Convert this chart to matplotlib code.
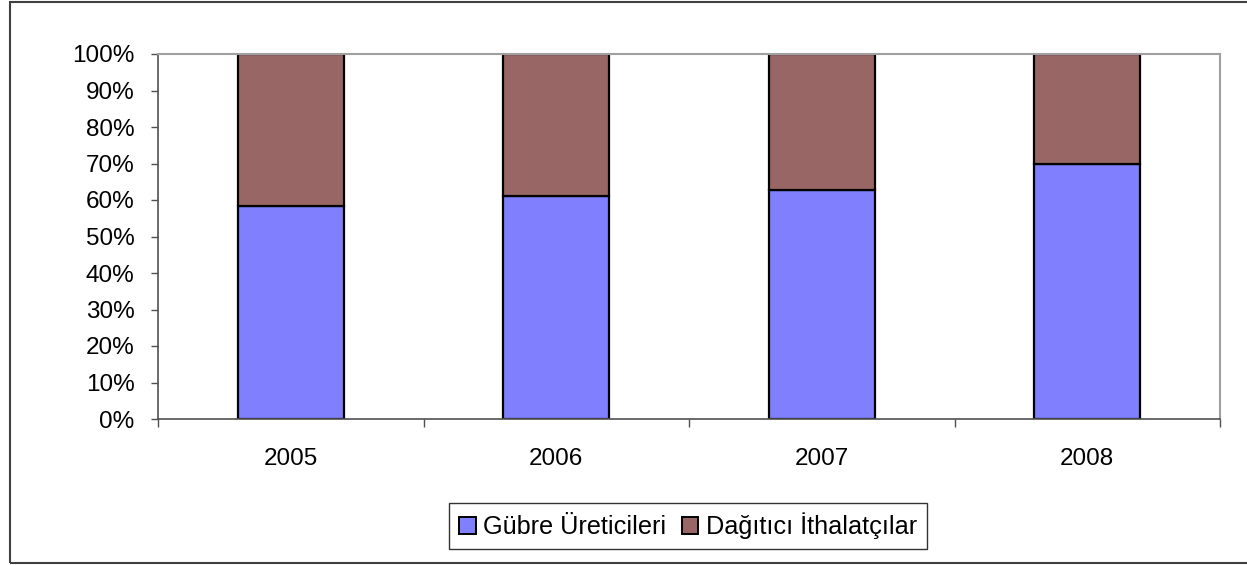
import matplotlib.pyplot as plt
import matplotlib.patches as mpatches
import numpy as np

years = ["2005", "2006", "2007", "2008"]
ureticiler = [58.4, 61.2, 62.7, 69.9]
ithalatcilar = [41.6, 38.8, 37.3, 30.1]
series_names = ["Gübre Üreticileri", "Dağıtıcı İthalatçılar"]
colors = ["#8080FF", "#996666"]

plt.rcParams['font.family'] = ['Liberation Sans', 'DejaVu Sans']

fig = plt.figure(figsize=(12.47, 5.65), dpi=100)
ax = fig.add_axes([158 / 1247, 146 / 565, 1062 / 1247, 365 / 565])

x = np.arange(len(years))
ax.bar(x, ureticiler, width=0.4, color=colors[0], edgecolor="black", linewidth=1.6, label=series_names[0])
ax.bar(x, ithalatcilar, width=0.4, bottom=ureticiler, color=colors[1], edgecolor="black",
       linewidth=1.6, label=series_names[1])

ax.set_xlim(-0.5, len(years) - 0.5)
ax.set_ylim(0, 100)
ax.set_yticks(np.arange(0, 101, 10))
ax.set_yticklabels([f"{v}%" for v in range(0, 101, 10)], fontsize=17.5)
ax.tick_params(axis="y", length=5, width=1, color="#505050", pad=12)

ax.set_xticks(x)
ax.set_xticklabels(years, fontsize=17.5)
ax.tick_params(axis="x", which="major", length=0, pad=21)
ax.set_xticks(np.arange(-0.5, len(years), 1), minor=True)
ax.tick_params(axis="x", which="minor", length=6, width=1, color="#505050")

for side in ["left", "bottom"]:
    ax.spines[side].set_color("#505050")
    ax.spines[side].set_linewidth(1.2)
for side in ["top", "right"]:
    ax.spines[side].set_color("#a0a0a0")
    ax.spines[side].set_linewidth(1.5)

handles = [mpatches.Patch(facecolor=c, edgecolor="black", linewidth=1.4) for c in colors]
leg = fig.legend(handles, series_names, loc="center", bbox_to_anchor=(688 / 1247, 1 - 526 / 565),
                 ncol=2, fontsize=18.2, frameon=True, fancybox=False, edgecolor="black",
                 handlelength=0.65, handleheight=0.65, handletextpad=0.3, columnspacing=0.6,
                 borderpad=0.4, borderaxespad=0)
leg.get_frame().set_linewidth(1.0)

# outer chart frame
frame = mpatches.Rectangle((10 / 1247, 2 / 565), 1.1, 561 / 565, transform=fig.transFigure,
                           fill=False, edgecolor="#404040", linewidth=1.5, clip_on=False)
fig.patches.append(frame)

fig.savefig("out.png", dpi=100)
